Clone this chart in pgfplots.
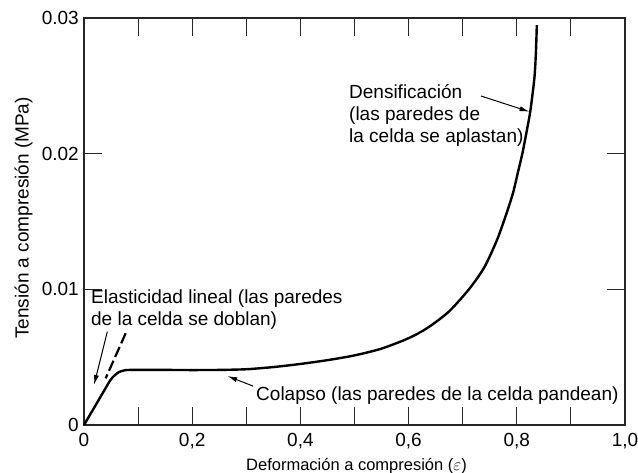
\documentclass[border=0pt]{standalone}
\usepackage{pgfplots}
\pgfplotsset{compat=1.18}
\usepackage{fontspec}
\setmainfont{Liberation Sans}
\usetikzlibrary{arrows.meta}
\newcommand{\fs}{\fontsize{19bp}{22bp}\selectfont}
\begin{document}
\begin{tikzpicture}
\path[use as bounding box] (-84bp,-48bp) rectangle (554bp,425bp);
\begin{axis}[
  at={(0,0)}, anchor=south west,
  scale only axis, width=541bp, height=407bp,
  xmin=0, xmax=1, ymin=0, ymax=0.03,
  axis line style={line width=1.1bp, black!85},
  tick style={line width=1.1bp, black!85},
  major tick length=18bp,
  tick align=inside, tick pos=both,
  xtick={0,0.1,0.2,0.3,0.4,0.5,0.6,0.7,0.8,0.9,1},
  xticklabels={{0},{},{0,2},{},{0,4},{},{0,6},{},{0,8},{},{1,0}},
  ytick={0,0.01,0.02,0.03},
  yticklabels={0,0.01,0.02,0.03},
  scaled y ticks=false, scaled x ticks=false,
  xticklabel style={anchor=base, yshift=-21.7bp},
  yticklabel style={inner sep=0pt, xshift=-5bp},
  tick label style={font=\fs},
  clip=false,
]
\addplot[line width=2.4bp, black, smooth, tension=0.45] coordinates {
(0,0) (0.03,0.00204) (0.048,0.00326) (0.056,0.00363) (0.064,0.00389) (0.073,0.00401)
(0.085,0.00406) (0.15,0.00406) (0.2,0.00405) (0.25,0.00406) (0.3,0.00411)
(0.35,0.00427) (0.4,0.0045) (0.45,0.00478) (0.5,0.00513) (0.55,0.00563)
(0.6,0.0064) (0.635,0.00716) (0.675,0.00838) (0.7135,0.0101) (0.7403,0.01165)
(0.7634,0.01364) (0.78,0.01548) (0.793,0.0171) (0.8031,0.0188) (0.8105,0.02005)
(0.8198,0.02197) (0.8253,0.02322) (0.8327,0.02565) (0.8355,0.02764) (0.837,0.02948)
};
% Densificacion
\node[anchor=base west, inner sep=0pt, font=\fs] at (axis cs:0.4898,0.02403) {Densificación};
\node[anchor=base west, inner sep=0pt, font=\fs] at (axis cs:0.4898,0.02241) {(las paredes de};
\node[anchor=base west, inner sep=0pt, font=\fs] at (axis cs:0.4898,0.02079) {la celda se aplastan)};
\draw[line width=1bp, -{Latex[length=10bp,width=5bp]}] (axis cs:0.7338,0.02425) -- (axis cs:0.8235,0.02309);
% Elasticidad
\node[anchor=base west, inner sep=0pt, font=\fs] at (axis cs:0.0129,0.00892) {Elasticidad lineal (las paredes};
\node[anchor=base west, inner sep=0pt, font=\fs] at (axis cs:0.0129,0.00737) {de la celda se doblan)};
\draw[line width=1bp, -{Latex[length=10bp,width=5bp]}] (axis cs:0.0431,0.00688) -- (axis cs:0.0185,0.00295);
\draw[line width=2.2bp, dash pattern=on 11bp off 4bp] (axis cs:0.077,0.00676) -- (axis cs:0.0401,0.00344);
% Colapso
\node[anchor=base west, inner sep=0pt, font=\fs] at (axis cs:0.318,0.00179) {Colapso (las paredes de la celda pandean)};
\draw[line width=1bp, -{Latex[length=10bp,width=5bp]}] (axis cs:0.3124,0.00287) -- (axis cs:0.2649,0.00361);
% axis labels
\node[rotate=90, anchor=center, font=\fs] at (axis cs:-0.1118,0.01526) {Tensión a compresión (MPa)};
\node[anchor=base, font=\fontsize{16.5bp}{18bp}\selectfont] at (axis cs:0.5037,-0.00339) {Deformación a compresión ($\varepsilon$)};
\end{axis}
\end{tikzpicture}
\end{document}
